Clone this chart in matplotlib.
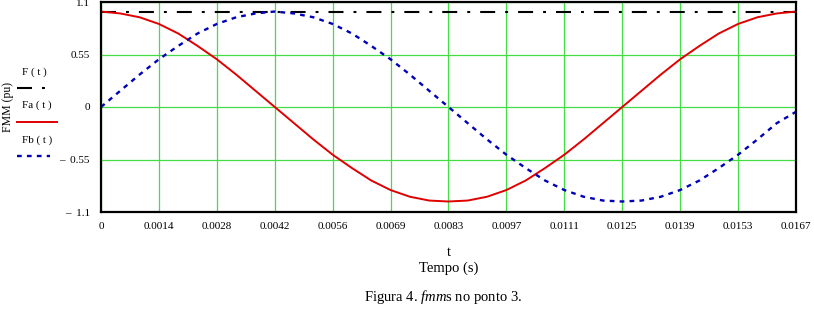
import matplotlib
matplotlib.use("Agg")
import matplotlib.pyplot as plt
from matplotlib.lines import Line2D

plt.rcParams['font.family'] = ['Liberation Serif', 'DejaVu Serif']
plt.rcParams['mathtext.fontset'] = 'custom'
plt.rcParams['mathtext.rm'] = 'Liberation Serif'
plt.rcParams['mathtext.it'] = 'Liberation Serif:italic'

# tempo (s), amostras
t = [0.0, 0.000463, 0.000926, 0.001389, 0.001852, 0.002315, 0.002778, 0.003241,
     0.003704, 0.004167, 0.004630, 0.005093, 0.005556, 0.006019, 0.006481, 0.006944,
     0.007407, 0.007870, 0.008333, 0.008796, 0.009259, 0.009722, 0.010185, 0.010648,
     0.011111, 0.011574, 0.012037, 0.012500, 0.012963, 0.013426, 0.013889, 0.014352,
     0.014815, 0.015278, 0.015741, 0.016204, 0.016667]

# FMM da fase a (pu)
Fa = [1.00, 0.98, 0.94, 0.87, 0.77, 0.64, 0.50, 0.34, 0.17, 0.00, -0.17, -0.34,
      -0.50, -0.64, -0.77, -0.87, -0.94, -0.98, -0.99, -0.98, -0.94, -0.87, -0.77,
      -0.64, -0.50, -0.34, -0.17, 0.00, 0.17, 0.34, 0.50, 0.64, 0.77, 0.87, 0.94,
      0.98, 1.00]

# FMM da fase b (pu)
Fb = [0.00, 0.17, 0.34, 0.50, 0.64, 0.77, 0.87, 0.94, 0.98, 1.00, 0.98, 0.94,
      0.87, 0.77, 0.64, 0.50, 0.34, 0.17, 0.00, -0.17, -0.34, -0.50, -0.64, -0.77,
      -0.87, -0.94, -0.98, -0.99, -0.98, -0.94, -0.87, -0.77, -0.64, -0.50, -0.34,
      -0.17, -0.05]

# FMM resultante (constante)
F_val = 1.0
F = [F_val] * len(t)

xticks = [0, 0.001389, 0.002778, 0.004167, 0.005556, 0.006944, 0.008333,
          0.009722, 0.011111, 0.0125, 0.013889, 0.015278, 0.016667]
xlabels = ['0', '0.0014', '0.0028', '0.0042', '0.0056', '0.0069', '0.0083',
           '0.0097', '0.0111', '0.0125', '0.0139', '0.0153', '0.0167']
yticks = [-1.1, -0.55, 0, 0.55, 1.1]
ylabels = ['\u2013  1.1', '\u2013  0.55', '0', '0.55', '1.1']

red = '#e00000'
blue = '#0000b8'
blue_dash = (2.0, 2.2)
black_dash = (7.2, 4.8, 1.4, 4.8)

W, H = 814, 310
fig = plt.figure(figsize=(W / 100, H / 100), dpi=100)
ax = fig.add_axes([101 / W, 1 - 212 / H, 695 / W, 210 / H])

ax.plot(t, F, color='black', lw=1.5, dashes=black_dash)
ax.plot(t, Fa, color=red, lw=1.4)
ax.plot(t, Fb, color=blue, lw=1.7, dashes=blue_dash)

ax.set_xlim(0, 0.016667)
ax.set_ylim(-1.1, 1.1)
ax.set_xticks(xticks)
ax.set_xticklabels(xlabels, fontsize=8)
ax.set_yticks(yticks)
ax.set_yticklabels(ylabels, fontsize=8)
ax.tick_params(length=0)
ax.tick_params(axis='x', pad=7)
ax.tick_params(axis='y', pad=8)
ax.grid(True, color='#45dd45', lw=0.9)
for s in ax.spines.values():
    s.set_linewidth(1.6)
    s.set_color('black')


def px(x, y):
    return (x / W, 1 - y / H)


# legenda no estilo Mathcad
fig.text(*px(22, 72), 'F ( t )', fontsize=8, va='center', ha='left')
fig.add_artist(Line2D([17 / W, 47 / W], [1 - 88 / H] * 2, color='black', lw=1.5,
                      dashes=black_dash))
fig.text(*px(22, 105), 'Fa ( t )', fontsize=8, va='center', ha='left')
fig.add_artist(Line2D([17 / W, 57 / W], [1 - 122 / H] * 2, color=red, lw=1.4))
fig.text(*px(22, 140), 'Fb ( t )', fontsize=8, va='center', ha='left')
fig.add_artist(Line2D([17 / W, 50 / W], [1 - 156 / H] * 2, color=blue, lw=1.7,
                      dashes=blue_dash))

fig.text(*px(8, 107), 'FMM (pu)', fontsize=8.5, rotation=90, va='center', ha='center')
fig.text(*px(449, 253), 't', fontsize=10.5, va='center', ha='center')
fig.text(*px(449, 268), 'Tempo (s)', fontsize=10.5, va='center', ha='center')
fig.text(*px(443, 297), r'Figura 4. $\mathit{fmm}$s no ponto 3.', fontsize=10.5,
         va='center', ha='center')

fig.savefig('out.png', dpi=100)
